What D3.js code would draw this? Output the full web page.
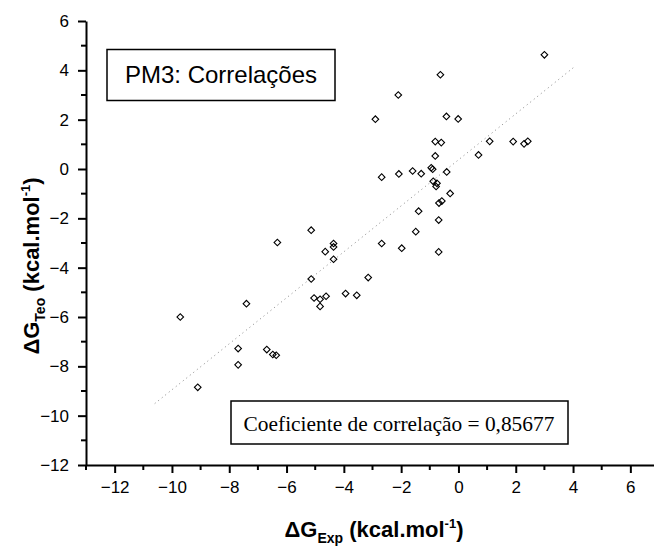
<!DOCTYPE html>
<html>
<head>
<meta charset="utf-8">
<script src="https://cdn.jsdelivr.net/npm/d3@7"></script>
<style>
  body { margin: 0; background: #fff; }
  svg { display: block; }
</style>
</head>
<body>
<div class="container"></div>
<script>
const width = 654;
const height = 550;

// experimental vs. theoretical free energies (kcal/mol)
const expValues = [3.0, -0.63, -2.1, -2.9, -0.42, -0.01, -0.81, -0.60, 1.09, 1.91,
  2.29, 2.42, 0.70, -0.81, -2.68, -2.08, -1.60, -1.30, -0.95, -0.90,
  -0.41, -0.88, -0.75, -0.78, -0.29, -0.68, -0.58, -1.39, -0.69, -1.49,
  -2.68, -1.98, -0.69, -3.15, -3.55, -5.14, -6.32, -4.36, -4.36, -4.65,
  -4.36, -5.14, -3.94, -5.04, -4.83, -4.62, -4.83, -7.40, -9.71, -7.69,
  -7.69, -6.69, -6.48, -6.36, -9.10];
const teoValues = [4.63, 3.82, 3.0, 2.02, 2.13, 2.03, 1.11, 1.07, 1.12, 1.11,
  1.02, 1.12, 0.57, 0.53, -0.33, -0.20, -0.08, -0.19, 0.05, -0.01,
  -0.12, -0.50, -0.58, -0.71, -0.99, -1.38, -1.30, -1.71, -2.07, -2.54,
  -3.02, -3.21, -3.36, -4.40, -5.12, -2.48, -2.98, -3.02, -3.16, -3.35,
  -3.66, -4.46, -5.05, -5.23, -5.28, -5.16, -5.57, -5.46, -6.00, -7.28,
  -7.94, -7.32, -7.52, -7.55, -8.85];

// linear fit drawn as dotted line
const fitSlope = 0.932;
const fitIntercept = 0.37;
const fitRange = [-10.6, 4.1];

const xTicks = [-12, -10, -8, -6, -4, -2, 0, 2, 4, 6];
const yTicks = [-12, -10, -8, -6, -4, -2, 0, 2, 4, 6];
const xMinorTicks = [-13, -11, -9, -7, -5, -3, -1, 1, 3, 5, 7];
const yMinorTicks = [-11, -9, -7, -5, -3, -1, 1, 3, 5];

const x = d3.scaleLinear().domain([-13, 7]).range([86, 659]);
const y = d3.scaleLinear().domain([-12, 6]).range([465, 21]);

const svg = d3.select(".container")
  .append("svg")
  .attr("width", width)
  .attr("height", height)
  .attr("viewBox", `0 0 ${width} ${height}`);

svg.append("rect")
  .attr("width", width)
  .attr("height", height)
  .attr("fill", "#fff");

const sans = "'Liberation Sans', Arial, sans-serif";
const serif = "'Liberation Serif', 'Times New Roman', serif";

// x axis
const xAxis = svg.append("g")
  .attr("transform", `translate(0,${y(-12)})`)
  .call(d3.axisBottom(x).tickValues(xTicks).tickSize(8).tickPadding(8).tickSizeOuter(0));
xAxis.append("g")
  .selectAll("line")
  .data(xMinorTicks)
  .join("line")
  .attr("x1", d => x(d)).attr("x2", d => x(d))
  .attr("y1", 0).attr("y2", 5)
  .attr("stroke", "#000")
  .attr("stroke-width", 2);

// y axis
const yAxis = svg.append("g")
  .attr("transform", `translate(${x(-13)},0)`)
  .call(d3.axisLeft(y).tickValues(yTicks).tickSize(8).tickPadding(9).tickSizeOuter(0));
yAxis.append("g")
  .selectAll("line")
  .data(yMinorTicks)
  .join("line")
  .attr("y1", d => y(d)).attr("y2", d => y(d))
  .attr("x1", 0).attr("x2", -5)
  .attr("stroke", "#000")
  .attr("stroke-width", 2);

svg.selectAll(".domain").attr("stroke", "#000").attr("stroke-width", 2);
svg.selectAll(".tick line").attr("stroke", "#000").attr("stroke-width", 2);
svg.selectAll(".tick text")
  .style("font-family", sans)
  .style("font-size", "17px")
  .attr("fill", "#000");

// fit line
svg.append("line")
  .attr("x1", x(fitRange[0]))
  .attr("y1", y(fitSlope * fitRange[0] + fitIntercept))
  .attr("x2", x(fitRange[1]))
  .attr("y2", y(fitSlope * fitRange[1] + fitIntercept))
  .attr("stroke", "#777")
  .attr("stroke-width", 0.9)
  .attr("stroke-dasharray", "1,3.5");

// points
const symbol = d3.symbol().type(d3.symbolSquare).size(22);
svg.append("g")
  .selectAll("path")
  .data(expValues.map((v, i) => [v, teoValues[i]]))
  .join("path")
  .attr("d", symbol)
  .attr("transform", d => `translate(${x(d[0])},${y(d[1])}) rotate(45)`)
  .attr("fill", "none")
  .attr("stroke", "#000")
  .attr("stroke-width", 1.1);

// title box
svg.append("rect")
  .attr("x", 107).attr("y", 49.5)
  .attr("width", 228).attr("height", 51)
  .attr("fill", "#fff")
  .attr("stroke", "#000")
  .attr("stroke-width", 1.5);
svg.append("text")
  .attr("x", 221).attr("y", 83)
  .attr("text-anchor", "middle")
  .style("font-family", sans)
  .style("font-size", "24px")
  .text("PM3: Correlações");

// correlation box
svg.append("rect")
  .attr("x", 231).attr("y", 401)
  .attr("width", 337).attr("height", 43)
  .attr("fill", "#fff")
  .attr("stroke", "#000")
  .attr("stroke-width", 1.5);
svg.append("text")
  .attr("x", 399).attr("y", 430.5)
  .attr("text-anchor", "middle")
  .style("font-family", serif)
  .style("font-size", "21.4px")
  .text("Coeficiente de correlação = 0,85677");

// x label
const xl = svg.append("text")
  .attr("x", 374).attr("y", 537)
  .attr("text-anchor", "middle")
  .style("font-family", sans)
  .style("font-weight", "bold")
  .style("font-size", "22px");
xl.append("tspan").text("ΔG");
xl.append("tspan").attr("dy", 6).style("font-size", "14px").text("Exp");
xl.append("tspan").attr("dy", -6).text(" (kcal.mol");
xl.append("tspan").attr("dy", -9).style("font-size", "13px").text("-1");
xl.append("tspan").attr("dy", 9).text(")");

// y label
const yl = svg.append("text")
  .attr("transform", "translate(38.5,266) rotate(-90)")
  .attr("text-anchor", "middle")
  .style("font-family", sans)
  .style("font-weight", "bold")
  .style("font-size", "22px");
yl.append("tspan").text("ΔG");
yl.append("tspan").attr("dy", 6).style("font-size", "14px").text("Teo");
yl.append("tspan").attr("dy", -6).text(" (kcal.mol");
yl.append("tspan").attr("dy", -9).style("font-size", "13px").text("-1");
yl.append("tspan").attr("dy", 9).text(")");
</script>
</body>
</html>
